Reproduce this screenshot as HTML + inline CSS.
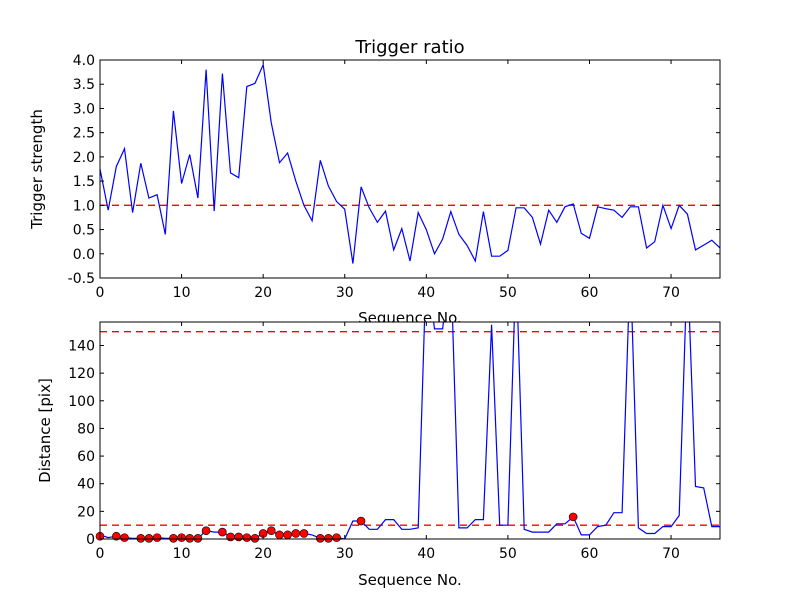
<!DOCTYPE html>
<html><head><meta charset="utf-8"><style>
body{margin:0;background:#fff}
svg text{font-family:"DejaVu Sans","Liberation Sans",sans-serif;fill:#000}
</style></head><body>
<svg id="fig" width="800" height="600" viewBox="0 0 800 600">
<rect width="800" height="600" fill="#fff"/>
</svg>
<script>
const seqTop = [1.75,0.9,1.8,2.17,0.85,1.87,1.15,1.22,0.4,2.95,1.45,2.05,1.15,3.8,0.88,3.72,1.67,1.57,3.45,3.52,3.9,2.7,1.88,2.08,1.5,1.0,0.68,1.93,1.4,1.08,0.92,-0.2,1.38,0.95,0.65,0.88,0.08,0.52,-0.15,0.85,0.5,0.0,0.3,0.87,0.4,0.17,-0.15,0.87,-0.05,-0.05,0.07,0.95,0.95,0.75,0.2,0.9,0.65,0.97,1.03,0.42,0.32,0.97,0.93,0.9,0.75,0.97,0.97,0.12,0.25,1.0,0.52,1.0,0.82,0.08,0.18,0.28,0.12];
const distLine = [3,1,2,1,0.5,0.5,0.5,1,0.5,0.5,1,0.5,0.5,6,5,5,1.5,1.5,1,0.5,4,6,3,3,4,4,3,0.5,0.5,1,0,13,13,7,7,14,14,7,7,8,200,152,152,200,8,8,14,14,155,10,10,200,7,5,5,5,11,11,16,3,3,9,10,19,19,200,8,4,4,9,9,17,200,38,37,9,9];
const dotIdx = [0,2,3,5,6,7,9,10,11,12,13,15,16,17,18,19,20,21,22,23,24,25,27,28,29,32,58];
const dotVal = [2,2,1,0.5,0.5,1,0.5,1,0.5,0.5,6,5,1.5,1.5,1,0.5,4,6,3,3,4,4,0.5,0.5,1,13,16];
const topYTicks = [-0.5,0.0,0.5,1.0,1.5,2.0,2.5,3.0,3.5,4.0];
const botYTicks = [0,20,40,60,80,100,120,140];
const xTicks = [0,10,20,30,40,50,60,70];
const topThresh = [1.0];
const botThresh = [10,150];

const NS='http://www.w3.org/2000/svg';
const svg=document.getElementById('fig');
function mk(tag,attrs,parent){const e=document.createElementNS(NS,tag);for(const k in attrs)e.setAttribute(k,attrs[k]);(parent||svg).appendChild(e);return e;}
const X0=100,X1=720,XMAX=76;
const xs=v=>X0+(X1-X0)*v/XMAX;

function axes(name,yTop,yBot,ymin,ymax,yticks,fmt,series,thresh,dots,ylabel,xlabelY,ylabX){
  const ys=v=>yBot-(yBot-yTop)*(v-ymin)/(ymax-ymin);
  const g=mk('g',{});
  
  
  const cid='clip-'+name;
  const cp=mk('clipPath',{id:cid},g);mk('rect',{x:X0,y:yTop,width:X1-X0,height:yBot-yTop},cp);
  thresh.forEach(t=>{const l=mk('line',{x1:X0,x2:X1,y1:ys(t),y2:ys(t),stroke:'#ff0000','stroke-width':1.3,'stroke-dasharray':'7,5','clip-path':`url(#${cid})`},g);
    
    });
  const pts=series.map((v,i)=>xs(i).toFixed(1)+','+ys(v).toFixed(1)).join(' ');
  const pl=mk('polyline',{points:pts,fill:'none',stroke:'#0000ff','stroke-width':1.2,'clip-path':`url(#${cid})`},g);
  
  
  if(dots){dots[0].forEach((ix,k)=>{const c=mk('circle',{cx:xs(ix),cy:ys(dots[1][k]),r:4,fill:'#ff0000',stroke:'#000','stroke-width':0.6},g);
    
    });}
  mk('rect',{x:X0,y:yTop,width:X1-X0,height:yBot-yTop,fill:'none',stroke:'#000','stroke-width':1},g);
  yticks.forEach(t=>{const y=ys(t);
    mk('line',{x1:X0,x2:X0+4,y1:y,y2:y,stroke:'#000'},g);mk('line',{x1:X1-4,x2:X1,y1:y,y2:y,stroke:'#000'},g);
    const tx=mk('text',{x:X0-5,y:y+5,'text-anchor':'end','font-size':14},g);tx.textContent=fmt(t);
    
    });
  xTicks.forEach(t=>{const x=xs(t);
    mk('line',{x1:x,x2:x,y1:yBot,y2:yBot-4,stroke:'#000'},g);mk('line',{x1:x,x2:x,y1:yTop,y2:yTop+4,stroke:'#000'},g);
    const tx=mk('text',{x:x,y:yBot+19,'text-anchor':'middle','font-size':14},g);tx.textContent=t;
    
    });
  const yl=mk('text',{x:0,y:0,'text-anchor':'middle','font-size':15,transform:`translate(${ylabX},${(yTop+yBot)/2}) rotate(-90)`},g);yl.textContent=ylabel;
  
  
  const xl=mk('text',{x:(X0+X1)/2,y:xlabelY,'text-anchor':'middle','font-size':15},g);xl.textContent='Sequence No.';
  
  
}
axes('trigger-ratio-axes',60,278,-0.5,4.0,topYTicks,t=>t.toFixed(1),seqTop,topThresh,null,'Trigger strength',323,42);
const wr=mk('rect',{x:X0,y:322,width:X1-X0,height:217,fill:'#fff'});
axes('distance-axes',322,539,0,157,botYTicks,t=>String(t),distLine,botThresh,[dotIdx,dotVal],'Distance [pix]',585,50);
const title=mk('text',{x:410,y:53,'text-anchor':'middle','font-size':18});title.textContent='Trigger ratio';


</script>
</body></html>
